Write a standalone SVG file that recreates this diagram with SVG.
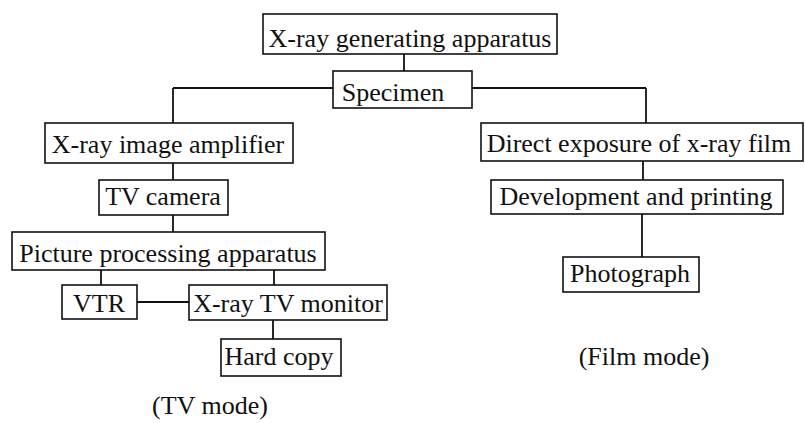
<svg xmlns="http://www.w3.org/2000/svg" width="805" height="423" viewBox="0 0 805 423">
<style>
rect.box{fill:none;stroke:#111;stroke-width:1.6}
text{font-family:Liberation Serif,serif;font-size:26px;fill:#111;text-anchor:middle}
.c line{stroke:#111;stroke-width:1.8}
</style>
<rect width="805" height="423" fill="#fff"/>
<g class="c" id="connectors">
<line x1="404" y1="54" x2="404" y2="71"/>
<line x1="173" y1="88" x2="333" y2="88"/>
<line x1="472" y1="88" x2="646" y2="88"/>
<line x1="173" y1="88" x2="173" y2="123"/>
<line x1="646" y1="88" x2="646" y2="123"/>
<line x1="173" y1="163" x2="173" y2="180"/>
<line x1="173" y1="215" x2="173" y2="232"/>
<line x1="101" y1="270" x2="101" y2="285"/>
<line x1="274" y1="270" x2="274" y2="285"/>
<line x1="137" y1="302" x2="189" y2="302"/>
<line x1="273" y1="320" x2="273" y2="339"/>
<line x1="643" y1="161" x2="643" y2="180"/>
<line x1="642" y1="214" x2="642" y2="257"/>
</g>
<g id="xray-gen"><rect class="box" x="263" y="14" width="294" height="40"/><text x="410" y="47">X-ray generating apparatus</text></g>
<g id="specimen"><rect class="box" x="333" y="71" width="139" height="37"/><text x="393" y="101" font-size="28">Specimen</text></g>
<g id="amplifier"><rect class="box" x="45" y="123" width="248" height="40"/><text x="168" y="153">X-ray image amplifier</text></g>
<g id="tv-camera"><rect class="box" x="99" y="180" width="129" height="35"/><text x="163" y="205">TV camera</text></g>
<g id="picture-proc"><rect class="box" x="12" y="232" width="313" height="38"/><text x="168" y="262">Picture processing apparatus</text></g>
<g id="vtr"><rect class="box" x="62" y="285" width="75" height="34"/><text x="99" y="312">VTR</text></g>
<g id="monitor"><rect class="box" x="189" y="285" width="198" height="35"/><text x="288" y="312">X-ray TV monitor</text></g>
<g id="hard-copy"><rect class="box" x="221" y="339" width="120" height="37"/><text x="279" y="365">Hard copy</text></g>
<g id="tv-mode"><text x="210" y="414">(TV mode)</text></g>
<g id="direct-exposure"><rect class="box" x="481" y="123" width="322" height="38"/><text x="639" y="152">Direct exposure of x-ray film</text></g>
<g id="development"><rect class="box" x="491" y="180" width="292" height="34"/><text x="636" y="205">Development and printing</text></g>
<g id="photograph"><rect class="box" x="563" y="257" width="136" height="35"/><text x="630" y="282">Photograph</text></g>
<g id="film-mode"><text x="644" y="365">(Film mode)</text></g>
</svg>
